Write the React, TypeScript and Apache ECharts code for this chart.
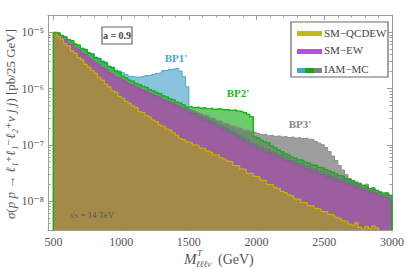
import React, { useEffect, useRef } from "react";
import * as echarts from "echarts";

// log10( sigma / (pb per 25 GeV) ), 25 GeV bins, left edges 500 ... 2975 GeV
const binStart = 500;
const binWidth = 25;

const smQcdew = [
  -5.00, -5.07, -5.12, -5.20, -5.24, -5.33, -5.37, -5.45, -5.49, -5.57,
  -5.62, -5.68, -5.73, -5.80, -5.85, -5.92, -5.97, -6.04, -6.07, -6.14,
  -6.17, -6.23, -6.26, -6.31, -6.34, -6.41, -6.43, -6.48, -6.51, -6.56,
  -6.59, -6.65, -6.67, -6.72, -6.74, -6.79, -6.83, -6.89, -6.91, -6.95,
  -6.96, -7.00, -7.01, -7.06, -7.07, -7.11, -7.13, -7.18, -7.18, -7.23,
  -7.25, -7.29, -7.30, -7.37, -7.37, -7.43, -7.44, -7.51, -7.51, -7.56,
  -7.57, -7.63, -7.64, -7.71, -7.71, -7.76, -7.78, -7.83, -7.85, -7.89,
  -7.91, -7.96, -7.97, -8.03, -8.03, -8.08, -8.09, -8.13, -8.14, -8.19,
  -8.19, -8.24, -8.25, -8.29, -8.31, -8.35, -8.36, -8.41, -8.43, -8.39,
  -8.47, -8.50, -8.45, -8.49, -8.44, -8.48, -8.80, -8.90, -9.00, -9.00,
];

const smEw = [
  -5.03, -5.05, -5.10, -5.13, -5.19, -5.22, -5.28, -5.31, -5.37, -5.40,
  -5.46, -5.49, -5.55, -5.58, -5.63, -5.66, -5.72, -5.75, -5.80, -5.82,
  -5.86, -5.89, -5.93, -5.95, -5.99, -6.01, -6.04, -6.06, -6.10, -6.12,
  -6.15, -6.17, -6.21, -6.23, -6.26, -6.28, -6.32, -6.34, -6.38, -6.40,
  -6.44, -6.46, -6.50, -6.52, -6.56, -6.58, -6.62, -6.64, -6.68, -6.70,
  -6.74, -6.76, -6.80, -6.82, -6.87, -6.89, -6.94, -6.96, -7.01, -7.03,
  -7.07, -7.09, -7.13, -7.14, -7.18, -7.19, -7.23, -7.24, -7.28, -7.29,
  -7.33, -7.34, -7.38, -7.39, -7.43, -7.43, -7.48, -7.48, -7.53, -7.53,
  -7.57, -7.58, -7.61, -7.63, -7.66, -7.65, -7.70, -7.72, -7.73, -7.77,
  -7.78, -7.80, -7.82, -7.86, -7.86, -7.89, -7.91, -7.94, -7.94, -7.99,
];

const bp1 = [
  -5.00, -5.01, -5.05, -5.08, -5.13, -5.15, -5.21, -5.23, -5.28, -5.30,
  -5.36, -5.38, -5.44, -5.46, -5.51, -5.53, -5.60, -5.62, -5.67, -5.69,
  -5.72, -5.75, -5.78, -5.79, -5.80, -5.79, -5.79, -5.77, -5.77, -5.75,
  -5.73, -5.72, -5.68, -5.68, -5.66, -5.65, -5.64, -5.69, -5.79, -5.97,
  -6.39, -6.41, -6.45, -6.47, -6.51, -6.53, -6.57, -6.59, -6.63, -6.65,
  -6.69, -6.71, -6.75, -6.77, -6.82, -6.84, -6.89, -6.91, -6.96, -6.98,
  -7.02, -7.04, -7.08, -7.09, -7.13, -7.14, -7.18, -7.19, -7.23, -7.24,
  -7.28, -7.29, -7.33, -7.34, -7.38, -7.38, -7.43, -7.43, -7.48, -7.48,
  -7.52, -7.53, -7.56, -7.58, -7.61, -7.60, -7.65, -7.67, -7.68, -7.72,
  -7.73, -7.75, -7.77, -7.81, -7.81, -7.84, -7.86, -7.89, -7.89, -7.94,
];

const bp2 = [
  -5.01, -5.02, -5.06, -5.08, -5.13, -5.15, -5.21, -5.23, -5.29, -5.31,
  -5.37, -5.39, -5.45, -5.47, -5.52, -5.55, -5.61, -5.63, -5.69, -5.71,
  -5.78, -5.81, -5.85, -5.87, -5.91, -5.93, -5.96, -5.98, -6.02, -6.04,
  -6.07, -6.09, -6.13, -6.15, -6.18, -6.20, -6.24, -6.26, -6.29, -6.33,
  -6.32, -6.34, -6.33, -6.35, -6.34, -6.36, -6.35, -6.37, -6.36, -6.37,
  -6.38, -6.37, -6.39, -6.38, -6.40, -6.41, -6.43, -6.46, -6.50, -6.86,
  -6.88, -6.92, -6.95, -6.97, -7.02, -7.05, -7.09, -7.12, -7.16, -7.18,
  -7.22, -7.24, -7.27, -7.28, -7.31, -7.33, -7.36, -7.37, -7.40, -7.41,
  -7.44, -7.47, -7.49, -7.52, -7.55, -7.56, -7.60, -7.62, -7.64, -7.68,
  -7.70, -7.72, -7.74, -7.78, -7.79, -7.81, -7.84, -7.86, -7.87, -7.90,
];

const bp3 = [
  -5.01, -5.03, -5.08, -5.11, -5.17, -5.20, -5.26, -5.29, -5.35, -5.38,
  -5.44, -5.47, -5.53, -5.56, -5.61, -5.64, -5.70, -5.73, -5.77, -5.79,
  -5.82, -5.85, -5.89, -5.91, -5.95, -5.97, -6.00, -6.02, -6.06, -6.08,
  -6.11, -6.13, -6.17, -6.19, -6.21, -6.23, -6.27, -6.29, -6.32, -6.34,
  -6.37, -6.39, -6.42, -6.44, -6.47, -6.48, -6.52, -6.53, -6.57, -6.58,
  -6.62, -6.63, -6.66, -6.67, -6.70, -6.71, -6.74, -6.74, -6.77, -6.78,
  -6.80, -6.82, -6.81, -6.84, -6.83, -6.85, -6.84, -6.86, -6.85, -6.87,
  -6.86, -6.88, -6.87, -6.89, -6.88, -6.90, -6.91, -6.94, -6.97, -7.00,
  -7.05, -7.12, -7.20, -7.28, -7.37, -7.45, -7.53, -7.60, -7.64, -7.66,
  -7.68, -7.74, -7.70, -7.80, -7.76, -7.83, -7.84, -7.88, -7.85, -7.90,
];

const xTickLabels = [500, 1000, 1500, 2000, 2500, 3000];
const yDecades = [-8, -7, -6, -5];

const xMin = 460;
const xMax = 3000;
const yMin = -8.515;
const yMax = -4.693;

const SERIF = "'Liberation Serif', 'DejaVu Serif', serif";
const AXIS_GRAY = "#9c9c9c";
const TEXT_GRAY = "#555555";

const sup: Record<string, string> = { "5": "⁵", "6": "⁶", "7": "⁷", "8": "⁸", "9": "⁹" };

function histPoints(vals: number[]) {
  const pts: number[][] = [[binStart, -12]];
  vals.forEach((v, i) => pts.push([binStart + i * binWidth, v]));
  const end = binStart + vals.length * binWidth;
  pts.push([end, vals[vals.length - 1]]);
  pts.push([end, -12]);
  return pts;
}

function minorX() {
  const out: number[] = [];
  for (let v = 500; v <= 3000; v += 100) if (v % 500 !== 0) out.push(v);
  return out;
}
function minorY() {
  const out: number[] = [];
  for (let d = -9; d <= -5; d++) {
    for (let k = 2; k <= 9; k++) {
      const v = d + Math.log10(k);
      if (v > yMin && v < yMax) out.push(v);
    }
  }
  return out;
}

function xAx(position: "top" | "bottom", major: boolean, labels: boolean) {
  return {
    type: "value",
    position,
    min: xMin,
    max: xMax,
    axisLine: { show: major, lineStyle: { color: AXIS_GRAY, width: 1 } },
    axisTick: {
      show: true,
      inside: true,
      length: major ? 5 : 2.5,
      customValues: major ? xTickLabels : minorX(),
      lineStyle: { color: AXIS_GRAY, width: 1 },
    },
    axisLabel: {
      show: labels,
      customValues: xTickLabels,
      color: TEXT_GRAY,
      fontFamily: SERIF,
      fontSize: 12,
      margin: 6,
      formatter: (v: number) => String(Math.round(v)),
    },
    splitLine: { show: false },
  };
}

function yAx(position: "left" | "right", major: boolean, labels: boolean) {
  return {
    type: "value",
    position,
    min: yMin,
    max: yMax,
    axisLine: { show: major, lineStyle: { color: AXIS_GRAY, width: 1 } },
    axisTick: {
      show: true,
      inside: true,
      length: major ? 5 : 2.5,
      customValues: major ? yDecades : minorY(),
      lineStyle: { color: AXIS_GRAY, width: 1 },
    },
    axisLabel: {
      show: labels,
      customValues: yDecades,
      color: TEXT_GRAY,
      fontFamily: SERIF,
      fontSize: 12,
      margin: 4,
      formatter: (v: number) => "10⁻" + sup[String(Math.round(-v))],
    },
    splitLine: { show: false },
  };
}

function histSeries(name: string, vals: number[], fill: string, line: string, lineW: number, z: number, area = true) {
  return {
    type: "line",
    name,
    data: histPoints(vals),
    step: "end",
    symbol: "none",
    clip: true,
    silent: true,
    z,
    xAxisIndex: 0,
    yAxisIndex: 0,
    lineStyle: { color: line, width: lineW },
    areaStyle: area ? { color: fill, origin: "start", opacity: 1 } : undefined,
  };
}

export default function App() {
  const ref = useRef<HTMLDivElement>(null);
  useEffect(() => {
    if (!ref.current) return;
    const chart = echarts.init(ref.current, undefined, { renderer: "svg" });
    const legendX = 291;
    const legendY = 22;
    chart.setOption({
      animation: false,
      backgroundColor: "#ffffff",
      grid: { left: 48, top: 15, right: 11, bottom: 42, containLabel: false },
      xAxis: [xAx("bottom", true, true), xAx("bottom", false, false), xAx("top", true, false), xAx("top", false, false)],
      yAxis: [yAx("left", true, true), yAx("left", false, false), yAx("right", true, false), yAx("right", false, false)],
      series: [
        histSeries("IAM-MC BP1'", bp1, "rgba(60,157,197,0.6)", "#4aa8d0", 1, 1),
        histSeries("IAM-MC BP2'", bp2, "rgba(7,170,7,0.6)", "#4fc04f", 0.8, 2),
        histSeries("IAM-MC BP3'", bp3, "rgba(116,116,116,0.7)", "#8c8c8c", 1, 3),
        histSeries("SM-EW", smEw, "rgba(175,80,175,0.75)", "#9a4fa8", 0.8, 4),
        histSeries("SM-QCDEW", smQcdew, "rgba(166,157,36,0.7)", "#c8b400", 1.2, 5),
        histSeries("BP2' line", bp2, "", "#10b010", 1.2, 6, false),
      ],
      graphic: [
        {
          type: "text",
          x: 10,
          y: 124,
          rotation: Math.PI / 2,
          style: {
            text: "{i|σ}{n|(}{i|p p} {n|→} {i|ℓ₁⁺ℓ₁⁻ℓ₂⁺ν j j}{n|) [pb/25 GeV]}",
            align: "center",
            verticalAlign: "middle",
            fill: "#555",
            rich: {
              i: { fontFamily: SERIF, fontSize: 13, fontStyle: "italic", fill: "#555" },
              n: { fontFamily: SERIF, fontSize: 13, fill: "#555" },
            },
          },
        },
        { type: "text", x: 184, y: 259, style: { text: "M", fontFamily: SERIF, fontSize: 15, fontStyle: "italic", fill: "#555", verticalAlign: "middle" } },
        { type: "text", x: 197, y: 253, style: { text: "T", fontFamily: SERIF, fontSize: 9, fontStyle: "italic", fill: "#555", verticalAlign: "middle" } },
        { type: "text", x: 196, y: 264, style: { text: "ℓℓℓν", fontFamily: SERIF, fontSize: 9, fontStyle: "italic", fill: "#555", verticalAlign: "middle" } },
        { type: "text", x: 218, y: 259, style: { text: "(GeV)", fontFamily: SERIF, fontSize: 14, fill: "#555", verticalAlign: "middle" } },

        { type: "rect", shape: { x: 102, y: 27, width: 30, height: 17 }, style: { fill: "#fff", stroke: "#666", lineWidth: 1.2 }, z: 10 },
        { type: "text", x: 117, y: 35.5, z: 11, style: { text: "a = 0.9", fontFamily: SERIF, fontSize: 10, fontWeight: "bold", fill: "#444", align: "center", verticalAlign: "middle" } },

        { type: "text", x: 176, y: 58, z: 11, style: { text: "BP1'", fontFamily: SERIF, fontSize: 11, fontWeight: "bold", fill: "#4aa8d0", align: "center", verticalAlign: "middle" } },
        { type: "text", x: 238, y: 93, z: 11, style: { text: "BP2'", fontFamily: SERIF, fontSize: 11, fontWeight: "bold", fill: "#1cb81c", align: "center", verticalAlign: "middle" } },
        { type: "text", x: 300, y: 124, z: 11, style: { text: "BP3'", fontFamily: SERIF, fontSize: 11, fontWeight: "bold", fill: "#888", align: "center", verticalAlign: "middle" } },
        { type: "text", x: 92, y: 215, z: 11, style: { text: "√s = 14 TeV", fontFamily: SERIF, fontSize: 9, fill: "#555", align: "center", verticalAlign: "middle" } },

        { type: "rect", z: 10, shape: { x: legendX, y: legendY, width: 97, height: 55 }, style: { fill: "#fff", stroke: "#666", lineWidth: 1.2 } },
        { type: "rect", z: 11, shape: { x: legendX + 6, y: legendY + 9, width: 25, height: 5 }, style: { fill: "#c4b71c" } },
        { type: "rect", z: 11, shape: { x: legendX + 6, y: legendY + 27, width: 25, height: 5 }, style: { fill: "#b44fe6" } },
        { type: "rect", z: 11, shape: { x: legendX + 6, y: legendY + 46, width: 8, height: 5 }, style: { fill: "#4ca4cc" } },
        { type: "rect", z: 11, shape: { x: legendX + 14, y: legendY + 46, width: 9, height: 5 }, style: { fill: "#16a816" } },
        { type: "rect", z: 11, shape: { x: legendX + 23, y: legendY + 46, width: 8, height: 5 }, style: { fill: "#808080" } },
        { type: "text", z: 11, x: legendX + 33, y: legendY + 10.5, style: { text: "SM−QCDEW", fontFamily: SERIF, fontSize: 11, fill: "#444", verticalAlign: "middle" } },
        { type: "text", z: 11, x: legendX + 33, y: legendY + 28, style: { text: "SM−EW", fontFamily: SERIF, fontSize: 11, fill: "#444", verticalAlign: "middle" } },
        { type: "text", z: 11, x: legendX + 33, y: legendY + 46.5, style: { text: "IAM−MC", fontFamily: SERIF, fontSize: 11, fill: "#444", verticalAlign: "middle" } },
      ],
    });
    return () => chart.dispose();
  }, []);
  return <div ref={ref} style={{ position: "fixed", left: 0, top: 0, width: 407, height: 272 }} />;
}
